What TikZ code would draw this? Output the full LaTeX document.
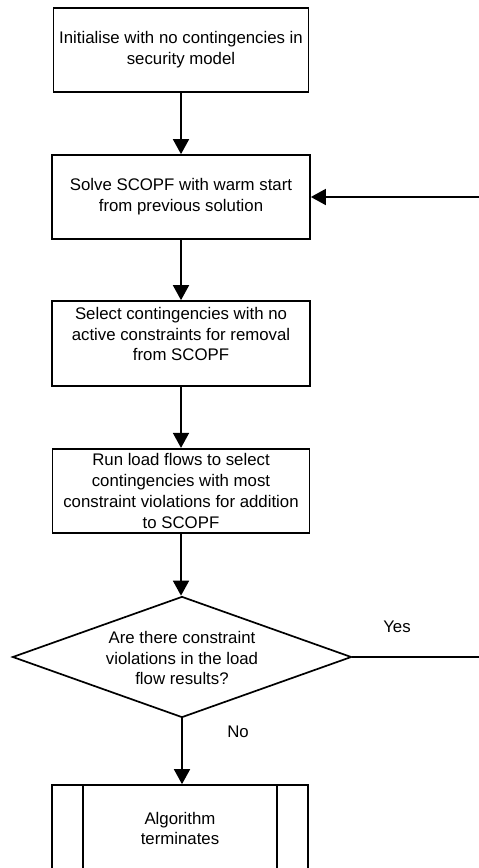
\documentclass[tikz,border=0pt]{standalone}
\usepackage{fontspec}
\setmainfont{Liberation Sans}
\usetikzlibrary{arrows.meta,shapes.geometric}
\begin{document}
\begin{tikzpicture}[x=1pt,y=-1pt,
  every node/.style={font=\fontsize{16.8}{20.7}\selectfont},
  stepbox/.style={draw,line width=1.7pt,rectangle,inner sep=0pt},
  txt/.style={align=center,inner sep=0pt},
  decision/.style={draw,line width=1.7pt,diamond,inner sep=0pt,minimum width=339pt,minimum height=121pt,aspect=2.8},
  flow/.style={line width=1.7pt,-{Triangle[length=15pt,width=16pt]}},
  plain/.style={line width=1.7pt}]
\useasboundingbox (0,0) rectangle (479,868);
\fill[white] (0,0) rectangle (479,868);

\node[stepbox,minimum width=255pt,minimum height=84pt,txt] (b1) at (181,50)
  {Initialise with no contingencies in\\security model};
\node[stepbox,minimum width=258pt,minimum height=84pt,txt] (b2) at (181,197)
  {Solve SCOPF with warm start\\from previous solution};
\node[stepbox,minimum width=258pt,minimum height=85pt] (b3) at (181,343.5) {};
\node[txt] (t3) at (181,334)
  {Select contingencies with no\\active constraints for removal\\from SCOPF};
\node[stepbox,minimum width=257pt,minimum height=84.5pt,txt] (b4) at (181,491)
  {Run load flows to select\\contingencies with most\\constraint violations for addition\\to SCOPF};
\node[decision] (d) at (182,657) {};
\node[txt] (td) at (182,658)
  {Are there constraint\\violations in the load\\flow results?};
\node[stepbox,minimum width=256pt,minimum height=120pt] (b5) at (180,845) {};
\node[txt] (t5) at (180,828.5) {Algorithm\\terminates};
\draw[plain] (b5.north -| 83,0) -- (b5.south -| 83,0);
\draw[plain] (b5.north -| 277,0) -- (b5.south -| 277,0);

\draw[flow] (b1.south) -- (b1.south |- b2.north);
\draw[flow] (b2.south) -- (b2.south |- b3.north);
\draw[flow] (b3.south) -- (b3.south |- b4.north);
\draw[flow] (b4.south) -- (b4.south |- d.north);
\draw[flow] (d.south) -- (d.south |- b5.north);
\coordinate (rc) at (481,0);
\draw[flow] (d.east) -- (d.east -| rc) -- (b2.east -| rc) -- (b2.east);

\node[inner sep=0pt] (yes) at (397,627) {Yes};
\node[inner sep=0pt] (no) at (238,732) {No};
\end{tikzpicture}
\end{document}
